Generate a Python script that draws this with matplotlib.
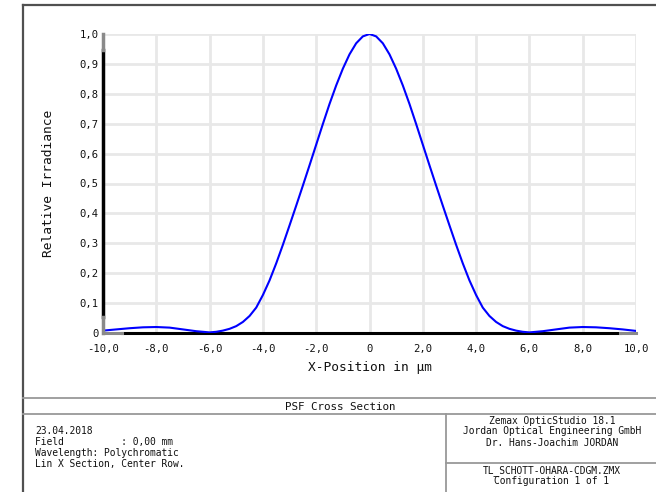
import matplotlib
matplotlib.use("Agg")
import matplotlib.pyplot as plt
from matplotlib.lines import Line2D

# PSF cross section (x in um, relative irradiance)
x_pos = [-10.0, -9.5, -9.0, -8.5, -8.0, -7.5, -7.0, -6.5, -6.0,
         -5.75, -5.5, -5.25, -5.0, -4.75, -4.5, -4.25, -4.0, -3.75, -3.5,
         -3.25, -3.0, -2.75, -2.5, -2.25, -2.0, -1.75, -1.5, -1.25, -1.0,
         -0.75, -0.5, -0.25, 0.0, 0.25, 0.5, 0.75, 1.0, 1.25, 1.5, 1.75,
         2.0, 2.25, 2.5, 2.75, 3.0, 3.25, 3.5, 3.75, 4.0, 4.25, 4.5, 4.75,
         5.0, 5.25, 5.5, 5.75, 6.0, 6.5, 7.0, 7.5, 8.0, 8.5, 9.0, 9.5, 10.0]
irradiance = [0.008, 0.012, 0.016, 0.019, 0.020, 0.018, 0.012, 0.006, 0.002,
              0.004, 0.008, 0.014, 0.023, 0.037, 0.057, 0.085, 0.127, 0.176, 0.233,
              0.295, 0.360, 0.426, 0.493, 0.561, 0.630, 0.699, 0.766, 0.828, 0.884,
              0.932, 0.969, 0.992, 1.000, 0.992, 0.969, 0.932, 0.884, 0.828, 0.766, 0.699,
              0.630, 0.561, 0.493, 0.426, 0.360, 0.295, 0.233, 0.176, 0.127, 0.085, 0.057, 0.037,
              0.023, 0.014, 0.008, 0.004, 0.002, 0.006, 0.012, 0.018, 0.020, 0.019, 0.016, 0.012, 0.007]

x_ticks = [-10, -8, -6, -4, -2, 0, 2, 4, 6, 8, 10]
x_labels = ["-10,0", "-8,0", "-6,0", "-4,0", "-2,0", "0", "2,0", "4,0", "6,0", "8,0", "10,0"]
y_ticks = [0.0, 0.1, 0.2, 0.3, 0.4, 0.5, 0.6, 0.7, 0.8, 0.9, 1.0]
y_labels = ["0", "0,1", "0,2", "0,3", "0,4", "0,5", "0,6", "0,7", "0,8", "0,9", "1,0"]

left_notes = ["23.04.2018", "Field          : 0,00 mm", "Wavelength: Polychromatic",
              "Lin X Section, Center Row."]
right_top = ["Zemax OpticStudio 18.1", "Jordan Optical Engineering GmbH",
             "Dr. Hans-Joachim JORDAN"]
right_bottom = ["TL_SCHOTT-OHARA-CDGM.ZMX", "Configuration 1 of 1"]

W, H = 656, 492
mono = "DejaVu Sans Mono"


def fx(px):
    return px / W


def fy(py):
    return 1 - py / H


fig = plt.figure(figsize=(W / 100, H / 100), dpi=100)
ax = fig.add_axes([fx(103), fy(333), (636 - 103) / W, (333 - 34) / H])

ax.plot(x_pos, irradiance, color="#0000ff", lw=1.5, zorder=5)
ax.set_xlim(-10, 10)
ax.set_ylim(0, 1)
ax.set_xticks(x_ticks)
ax.set_xticklabels(x_labels)
ax.set_yticks(y_ticks)
ax.set_yticklabels(y_labels)
ax.grid(True, color="#e8e8e8", lw=2)
ax.set_axisbelow(True)
for s in ax.spines.values():
    s.set_visible(False)
ax.tick_params(length=0, labelsize=7.6, colors="#111111")
ax.tick_params(axis="x", pad=8)
ax.tick_params(axis="y", pad=3)
for lab in ax.get_xticklabels() + ax.get_yticklabels():
    lab.set_family(mono)

# axis lines, black with grey end pieces
ax.plot([-10, -10], [0.055, 0.947], color="black", lw=2.5, clip_on=False, zorder=6)
ax.plot([-10, -10], [0, 0.055], color="#8a8a8a", lw=2.5, clip_on=False, zorder=6)
ax.plot([-10, -10], [0.947, 1.0], color="#8a8a8a", lw=2.5, clip_on=False, zorder=6)
ax.plot([-9.3, 9.4], [0, 0], color="black", lw=2.2, clip_on=False, zorder=4)
ax.plot([-10, -9.3], [0, 0], color="#8a8a8a", lw=2.2, clip_on=False, zorder=4)
ax.plot([9.4, 10], [0, 0], color="#8a8a8a", lw=2.2, clip_on=False, zorder=4)

fig.text(fx(370), fy(367), "X-Position in µm", family=mono, fontsize=9.3,
         ha="center", va="center", color="#111111")
fig.text(fx(49), fy(183), "Relative Irradiance", family=mono, fontsize=9.3,
         ha="center", va="center", rotation=90, color="#111111")

# outer frame and footer boxes
frame = "#505050"
fig.add_artist(Line2D([fx(23), fx(660)], [fy(5), fy(5)], color=frame, lw=1.6))
fig.add_artist(Line2D([fx(23), fx(23)], [fy(5), fy(495)], color=frame, lw=1.6))
box = "#999999"
fig.add_artist(Line2D([fx(23), fx(660)], [fy(398), fy(398)], color=box, lw=1.3))
fig.add_artist(Line2D([fx(23), fx(660)], [fy(414), fy(414)], color=box, lw=1.3))
fig.add_artist(Line2D([fx(446), fx(446)], [fy(414), fy(495)], color=box, lw=1.3))
fig.add_artist(Line2D([fx(446), fx(660)], [fy(463), fy(463)], color=box, lw=1.3))

fig.text(fx(340), fy(407), "PSF Cross Section", family=mono, fontsize=7.8,
         ha="center", va="center", color="#111111")
for i, line in enumerate(left_notes):
    fig.text(fx(35), fy(431.5 + i * 11), line, family=mono, fontsize=6.9,
             ha="left", va="center", color="#111111")
for i, line in enumerate(right_top):
    fig.text(fx(552), fy(420.5 + i * 11), line, family=mono, fontsize=6.9,
             ha="center", va="center", color="#111111")
for i, line in enumerate(right_bottom):
    fig.text(fx(552), fy(470.5 + i * 11), line, family=mono, fontsize=6.9,
             ha="center", va="center", color="#111111")

fig.savefig("out.png", dpi=100)
